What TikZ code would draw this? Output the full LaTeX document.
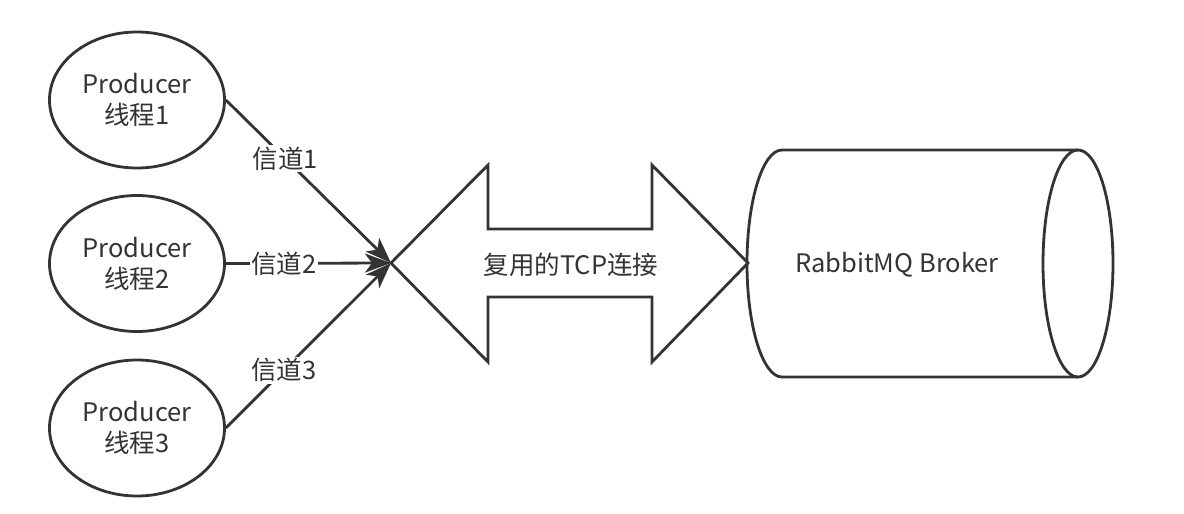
\documentclass[tikz,border=0pt]{standalone}
\usepackage{fontspec}
\setmainfont{Noto Sans CJK SC}
\usetikzlibrary{arrows.meta,shapes.geometric}
\definecolor{ink}{HTML}{333333}
\begin{document}
\begin{tikzpicture}[x=1pt,y=-1pt,line width=2.8pt,
  every node/.style={text=ink},
  txt/.style={font=\fontsize{25.5}{31}\selectfont},
  prod/.style={ellipse,draw=ink,line width=2.8pt,minimum width=175pt,minimum height=136pt,inner sep=0pt,align=center,txt},
  lbl/.style={fill=white,inner sep=1.5pt,txt},
  conn/.style={draw=ink,-{Stealth[length=26pt,width=19pt,inset=7pt]}}
]
\path[use as bounding box] (0,0) rectangle (1184,514);
\node[prod] (p1) at (137,100) {Producer\\线程1};
\node[prod] (p2) at (137,263.5) {Producer\\线程2};
\node[prod] (p3) at (137,428) {Producer\\线程3};
\coordinate (ltip) at (391,263);
\coordinate (rtip) at (748,263);
% double arrow
\draw[ink,line join=miter] (ltip) -- (488,165) -- (488,229) -- (652,229) -- (652,165) -- (rtip)
  -- (652,362) -- (652,297) -- (488,297) -- (488,362) -- cycle;
\node[txt] (tcp) at (571,265) {复用的TCP连接};
% connectors
\draw[conn] (p1.east) -- node[lbl,pos=0.36] (c1) {信道1} (ltip);
\draw[conn] (p2.east) -- node[lbl,pos=0.35] (c2) {信道2} (ltip);
\draw[conn] (p3.east) -- node[lbl,pos=0.35] (c3) {信道3} (ltip);
% cylinder
\draw[ink] (1078,150) -- (782,150) arc[start angle=270,end angle=90,x radius=35,y radius=113.5] -- (1078,377);
\draw[ink] (1078,263.5) ellipse [x radius=35,y radius=113.5];
\node[txt] (broker) at (897,265) {RabbitMQ Broker};
\end{tikzpicture}
\end{document}
